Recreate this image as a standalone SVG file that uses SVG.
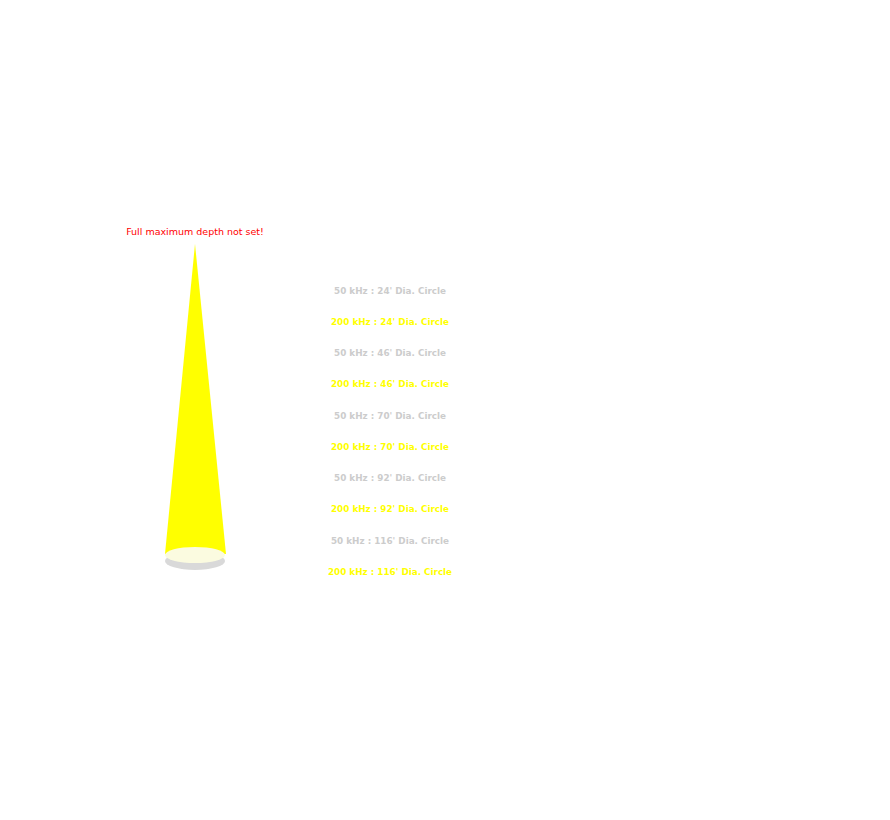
<svg xmlns="http://www.w3.org/2000/svg" width="890" height="820" viewBox="0 0 890 820">
<style>
.t{font-family:"DejaVu Sans",sans-serif;font-weight:bold;font-size:8.8px;text-anchor:middle}
.g{fill:#cccccc}.y{fill:#ffff00}
</style>
<rect width="890" height="820" fill="#fff"/>
<g id="warning"><text x="195" y="235" class="t" style="fill:#ff0000;font-weight:normal;font-size:9.5px">Full maximum depth not set!</text></g>
<g id="cone">
<ellipse cx="195" cy="561" rx="30" ry="9" fill="#d9d9d9"/>
<polygon points="195,244 165,554 226,554" fill="#ffff00"/>
<ellipse cx="195" cy="555" rx="30" ry="8" fill="#fbfbe0"/>
</g>
<g id="labels">
<text x="390" y="294" class="t g">50 kHz : 24' Dia. Circle</text>
<text x="390" y="325" class="t y">200 kHz : 24' Dia. Circle</text>
<text x="390" y="356" class="t g">50 kHz : 46' Dia. Circle</text>
<text x="390" y="387" class="t y">200 kHz : 46' Dia. Circle</text>
<text x="390" y="419" class="t g">50 kHz : 70' Dia. Circle</text>
<text x="390" y="450" class="t y">200 kHz : 70' Dia. Circle</text>
<text x="390" y="481" class="t g">50 kHz : 92' Dia. Circle</text>
<text x="390" y="512" class="t y">200 kHz : 92' Dia. Circle</text>
<text x="390" y="544" class="t g">50 kHz : 116' Dia. Circle</text>
<text x="390" y="575" class="t y">200 kHz : 116' Dia. Circle</text>
</g>
</svg>
